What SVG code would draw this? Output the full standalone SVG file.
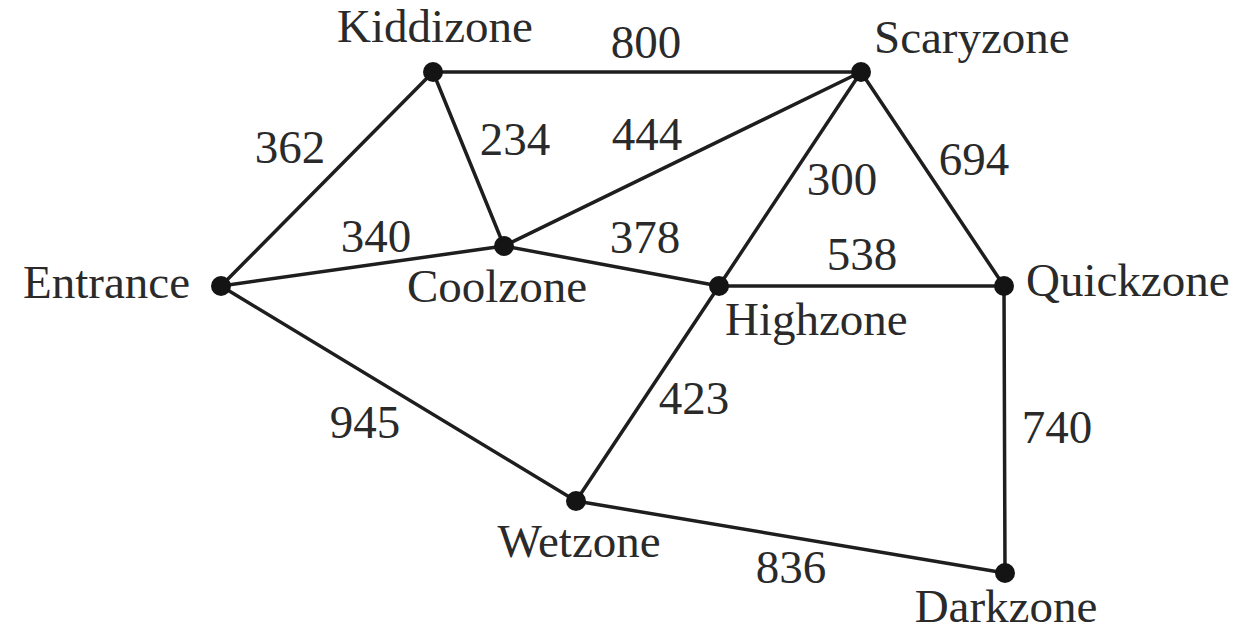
<svg xmlns="http://www.w3.org/2000/svg" width="1238" height="631" viewBox="0 0 1238 631">
<style>
  .edge { stroke: #1e1e1e; stroke-width: 3.5; fill: none; stroke-linecap: round; }
  .dot { fill: #141414; }
  text { font-family: "Liberation Serif", "Times New Roman", serif; font-size: 47px; fill: #2a2a2a; }
  .m { text-anchor: middle; }
  .e { text-anchor: end; }
</style>
<rect width="1238" height="631" fill="#ffffff"/>
<g id="connectors">
  <line class="edge" x1="433" y1="72" x2="861" y2="72"/>
  <line class="edge" x1="221" y1="286" x2="433" y2="72"/>
  <line class="edge" x1="433" y1="72" x2="504" y2="246"/>
  <line class="edge" x1="504" y1="246" x2="861" y2="72"/>
  <line class="edge" x1="719" y1="286" x2="861" y2="72"/>
  <line class="edge" x1="861" y1="72" x2="1004" y2="286"/>
  <line class="edge" x1="221" y1="286" x2="504" y2="246"/>
  <line class="edge" x1="504" y1="246" x2="719" y2="286"/>
  <line class="edge" x1="719" y1="286" x2="1004" y2="286"/>
  <line class="edge" x1="221" y1="286" x2="576" y2="501"/>
  <line class="edge" x1="576" y1="501" x2="719" y2="286"/>
  <line class="edge" x1="1004" y1="286" x2="1005" y2="573"/>
  <line class="edge" x1="576" y1="501" x2="1005" y2="573"/>
  <text class="m" x="646" y="58">800</text>
  <text class="m" x="290" y="163">362</text>
  <text class="m" x="515" y="155">234</text>
  <text class="m" x="647" y="150">444</text>
  <text class="m" x="842" y="195">300</text>
  <text class="m" x="974" y="175">694</text>
  <text class="m" x="376" y="252">340</text>
  <text class="m" x="645" y="253">378</text>
  <text class="m" x="862" y="270">538</text>
  <text class="m" x="365" y="438">945</text>
  <text class="m" x="694" y="414">423</text>
  <text class="m" x="1057" y="443">740</text>
  <text class="m" x="791" y="583">836</text>
</g>
<g id="kiddizone"><circle class="dot" cx="433" cy="72" r="10"/><text class="m" x="435" y="42">Kiddizone</text></g>
<g id="scaryzone"><circle class="dot" cx="861" cy="72" r="10"/><text x="874" y="53">Scaryzone</text></g>
<g id="entrance"><circle class="dot" cx="221" cy="286" r="10"/><text class="e" x="190" y="298">Entrance</text></g>
<g id="coolzone"><circle class="dot" cx="504" cy="246" r="10"/><text class="m" x="497" y="302">Coolzone</text></g>
<g id="highzone"><circle class="dot" cx="719" cy="286" r="10"/><text x="725" y="335">Highzone</text></g>
<g id="quickzone"><circle class="dot" cx="1004" cy="286" r="10"/><text x="1026" y="296">Quickzone</text></g>
<g id="wetzone"><circle class="dot" cx="576" cy="501" r="10"/><text class="m" x="579" y="557">Wetzone</text></g>
<g id="darkzone"><circle class="dot" cx="1005" cy="573" r="10"/><text class="m" x="1006" y="622">Darkzone</text></g>
</svg>
